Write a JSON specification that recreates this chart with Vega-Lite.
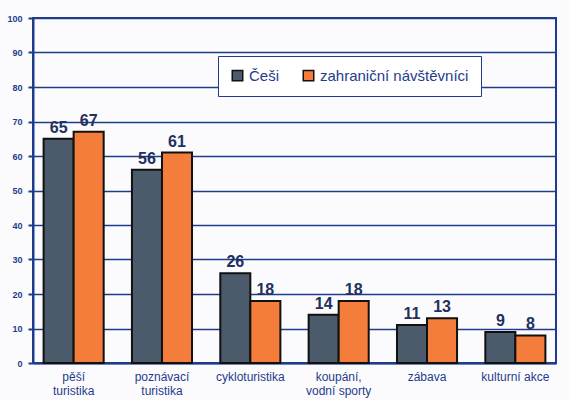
{
  "$schema": "https://vega.github.io/schema/vega-lite/v6.json",
  "width": 570,
  "height": 400,
  "autosize": {"type": "fit", "contains": "padding"},
  "padding": {"left": 6, "top": 14, "right": 14, "bottom": 4},
  "background": "#fbfbfd",
  "config": {
    "font": "Liberation Sans",
    "view": {"stroke": "#1f3c8c", "strokeWidth": 2}
  },
  "data": {
    "values": [
      {"cat": "pěší|turistika", "group": "Češi", "value": 65},
      {"cat": "pěší|turistika", "group": "zahraniční návštěvníci", "value": 67},
      {"cat": "poznávací|turistika", "group": "Češi", "value": 56},
      {"cat": "poznávací|turistika", "group": "zahraniční návštěvníci", "value": 61},
      {"cat": "cykloturistika", "group": "Češi", "value": 26},
      {"cat": "cykloturistika", "group": "zahraniční návštěvníci", "value": 18},
      {"cat": "koupání,|vodní sporty", "group": "Češi", "value": 14},
      {"cat": "koupání,|vodní sporty", "group": "zahraniční návštěvníci", "value": 18},
      {"cat": "zábava", "group": "Češi", "value": 11},
      {"cat": "zábava", "group": "zahraniční návštěvníci", "value": 13},
      {"cat": "kulturní akce", "group": "Češi", "value": 9},
      {"cat": "kulturní akce", "group": "zahraniční návštěvníci", "value": 8}
    ]
  },
  "encoding": {
    "x": {
      "field": "cat",
      "type": "nominal",
      "sort": null,
      "scale": {"paddingInner": 0.32, "paddingOuter": 0.12},
      "axis": {
        "title": null,
        "labelAngle": 0,
        "labelExpr": "split(datum.label, '|')",
        "labelFontSize": 12,
        "labelFontWeight": 500,
        "labelColor": "#1f3c8c",
        "labelPadding": 8,
        "domainColor": "#1f3c8c",
        "domainWidth": 2,
        "ticks": false
      }
    },
    "xOffset": {"field": "group", "type": "nominal", "sort": ["Češi", "zahraniční návštěvníci"], "scale": {"paddingInner": 0, "paddingOuter": 0}},
    "y": {
      "field": "value",
      "type": "quantitative",
      "scale": {"domain": [0, 100]},
      "axis": {
        "title": null,
        "values": [0, 10, 20, 30, 40, 50, 60, 70, 80, 90, 100],
        "labelOverlap": false,
        "labelFontSize": 9,
        "labelFontWeight": "bold",
        "labelColor": "#1f3c8c",
        "gridColor": "#1f3c8c",
        "gridWidth": 1.5,
        "gridOpacity": 1,
        "domainColor": "#1f3c8c",
        "domainWidth": 2,
        "tickColor": "#1f3c8c",
        "tickWidth": 2,
        "tickSize": 5,
        "labelPadding": 6
      }
    }
  },
  "layer": [
    {
      "mark": {"type": "bar", "stroke": "#111111", "strokeWidth": 2},
      "encoding": {
        "color": {
          "field": "group",
          "type": "nominal",
          "scale": {"domain": ["Češi", "zahraniční návštěvníci"], "range": ["#4c5b6c", "#f57d3c"]},
          "legend": {
            "title": null,
            "orient": "none",
            "legendX": 185,
            "legendY": 38,
            "direction": "horizontal",
            "fillColor": "#ffffff",
            "strokeColor": "#1f3c8c",
            "padding": 12,
            "symbolType": "square",
            "symbolSize": 110,
            "symbolStrokeColor": "#111111",
            "symbolStrokeWidth": 1.5,
            "labelFontSize": 15,
            "labelColor": "#1f3c8c",
            "columnPadding": 20,
            "labelLimit": 300
          }
        }
      }
    },
    {
      "mark": {"type": "text", "dy": -11, "fontSize": 16, "fontWeight": "bold", "color": "#22305e"},
      "encoding": {"text": {"field": "value", "type": "quantitative"}}
    }
  ]
}
